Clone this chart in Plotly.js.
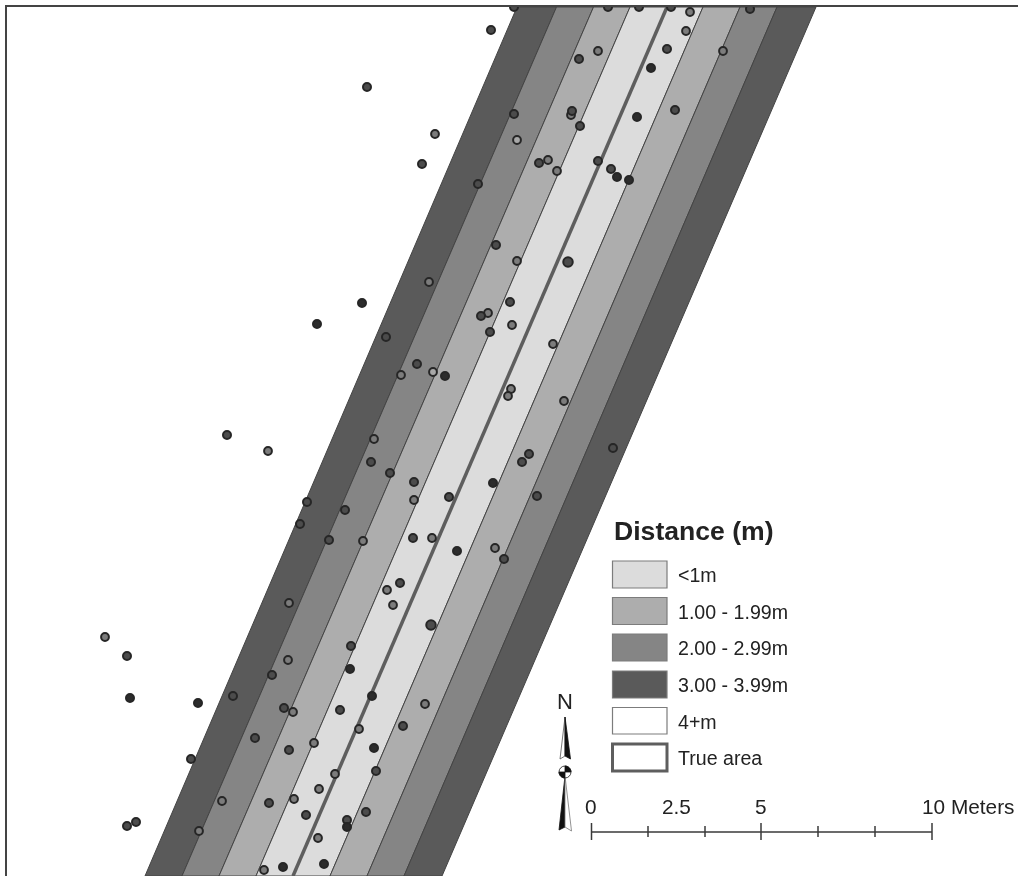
<!DOCTYPE html>
<html>
<head>
<meta charset="utf-8">
<script src="https://cdn.plot.ly/plotly-3.0.1.min.js"></script>
<style>html,body{margin:0;padding:0;background:#fff;overflow:hidden}#map{width:1018px;height:876px;filter:blur(0.45px)}</style>
</head>
<body>
<div id="map"></div>
<script>
// Map coordinates
const edgeTopX    = [517, 556.5, 593.5, 630, 667, 703, 740, 777, 816];
const edgeBottomX = [145, 182, 219, 256, 293, 330, 367, 404, 442];
const edgeTopY = 7, edgeBottomY = 876;
const bandFills = ['#5a5a5a','#858585','#adadad','#dcdcdc','#dcdcdc','#adadad','#858585','#5a5a5a'];

const darkX = [651,637,617,629,362,317,445,493,457,130,198,350,372,374,347,324,283];
const darkY = [68,117,177,180,303,324,376,483,551,698,703,669,696,748,827,864,867];

const midX = [514,608,639,671,750,491,579,667,514,572,580,675,539,598,611,478,367,422,
  496,510,481,490,386,417,613,529,522,449,537,504,227,371,390,414,307,345,300,329,413,400,
  127,233,272,284,255,351,340,403,289,376,191,269,306,366,347,136,127];
const midY = [7,7,7,7,9,30,59,49,114,111,126,110,163,161,169,184,87,164,
  245,302,316,332,337,364,448,454,462,497,496,559,435,462,473,482,502,510,524,540,538,583,
  656,696,675,708,738,646,710,726,750,771,759,803,815,812,820,822,826];

const lightX = [690,686,598,723,571,548,557,435,517,429,488,512,553,401,511,508,564,
  268,374,414,363,432,495,387,393,105,289,288,293,359,425,314,335,319,294,222,199,318,264];
const lightY = [12,31,51,51,115,160,171,134,261,282,313,325,344,375,389,396,401,
  451,439,500,541,538,548,590,605,637,603,660,712,729,704,743,774,789,799,801,831,838,870];

const paleX = [517,433];
const paleY = [140,372];

const largeX = [568,431];
const largeY = [262,625];

// Legend
const legendTitle = 'Distance (m)';
const legendLabels = ['<1m','1.00 - 1.99m','2.00 - 2.99m','3.00 - 3.99m','4+m','True area'];
const legendFills = ['#dcdcdc','#adadad','#858585','#5a5a5a','#ffffff','#ffffff'];
const legendTop = [561,597.5,634,671,707.5,744];
const legendBottom = [588,624.5,661,698,734,771];
const legendMid = [575,612,648,685,722,758];

// Scale bar
const scaleTicks = [591.5,648,705,761,818,875,932];
const scaleMajor = [true,false,false,true,false,false,true];
const scaleLabels = ['0','2.5','5','10 Meters'];
const scaleLabelX = [591,676.5,761,919.5];
const scaleLabelAnchor = ['center','center','center','left'];

const ink = '#222222';
const traces = [];
bandFills.forEach((fill,i)=>{
  traces.push({x:[edgeTopX[i],edgeTopX[i+1],edgeBottomX[i+1],edgeBottomX[i],edgeTopX[i]],
    y:[edgeTopY,edgeTopY,edgeBottomY,edgeBottomY,edgeTopY],
    mode:'lines',fill:'toself',fillcolor:fill,line:{color:'#444444',width:1},hoverinfo:'skip',showlegend:false});
});
traces.push({x:[edgeTopX[4],edgeBottomX[4]],y:[edgeTopY,edgeBottomY],mode:'lines',
  line:{color:'#5e5e5e',width:3.5},hoverinfo:'skip',showlegend:false});
function pts(x,y,fill,size){
  traces.push({x,y,mode:'markers',showlegend:false,hoverinfo:'x+y',
    marker:{size:size,color:fill,line:{color:'#262626',width:2}}});
}
pts(paleX,paleY,'#a8a8a8',7.8);
pts(lightX,lightY,'#7c7c7c',7.8);
pts(midX,midY,'#4c4c4c',8);
pts(largeX,largeY,'#4c4c4c',9.5);
pts(darkX,darkY,'#2c2c2c',8);

const shapes = [];
const annotations = [];
function text(t,x,y,size,anchor,bold){
  annotations.push({text:bold?'<b>'+t+'</b>':t,x,y,xref:'x',yref:'y',showarrow:false,
    xanchor:anchor,yanchor:'middle',font:{family:'"Liberation Sans",Arial,sans-serif',size,color:ink}});
}
text(legendTitle,611.5,531,26.6,'left',true);
legendLabels.forEach((t,i)=>{
  const last = i===legendLabels.length-1;
  shapes.push({type:'rect',xref:'x',yref:'y',x0:612.5,x1:667,y0:legendTop[i],y1:legendBottom[i],
    fillcolor:legendFills[i],line:{color:last?'#5e5e5e':'#7c7c7c',width:last?3:1.2}});
  text(t.replace('<','&lt;'),675.5,legendMid[i],19.6,'left',false);
});
// scale bar
shapes.push({type:'line',xref:'x',yref:'y',x0:scaleTicks[0],x1:scaleTicks[6],y0:832,y1:832,line:{color:'#3a3a3a',width:1.5}});
scaleTicks.forEach((t,i)=>{
  shapes.push({type:'line',xref:'x',yref:'y',x0:t,x1:t,y0:scaleMajor[i]?823:826,y1:scaleMajor[i]?840:837,line:{color:'#3a3a3a',width:1.5}});
});
scaleLabels.forEach((t,i)=>text(t,scaleLabelX[i],806.5,20.8,scaleLabelAnchor[i],false));
// north arrow
text('N',565,701,22,'center',false);
const poly=(d,fill,col)=>shapes.push({type:'path',xref:'x',yref:'y',path:d,fillcolor:fill,line:{color:col,width:0.8}});
poly('M565,717 L560,759 L565,756 Z','#ffffff','#555555');
poly('M565,717 L570.5,759 L565,756 Z','#111111','#111111');
poly('M565,776 L559,830 L565,827 Z','#111111','#111111');
poly('M565,776 L571.5,831 L565,827 Z','#ffffff','#777777');
shapes.push({type:'circle',xref:'x',yref:'y',x0:559,x1:571,y0:766,y1:778,fillcolor:'#ffffff',line:{color:'#444444',width:1}});
poly('M565,766 C568.3,766 571,768.7 571,772 L565,772 Z','#111111','#111111');
poly('M565,772 L559,772 C559,775.3 561.7,778 565,778 Z','#111111','#111111');

const layout = {
  width:1018,height:876,margin:{l:7,r:0,t:7,b:0,pad:0},
  paper_bgcolor:'#ffffff',plot_bgcolor:'#ffffff',showlegend:false,hovermode:'closest',
  xaxis:{range:[7,1018],showgrid:false,zeroline:false,showticklabels:false,ticks:'',side:'top',showline:true,linecolor:'#444444',linewidth:2,fixedrange:true},
  yaxis:{range:[876,7],showgrid:false,zeroline:false,showticklabels:false,ticks:'',showline:true,linecolor:'#444444',linewidth:2,fixedrange:true},
  shapes,annotations
};
Plotly.newPlot('map',traces,layout,{displayModeBar:false,staticPlot:true});
</script>
</body>
</html>
